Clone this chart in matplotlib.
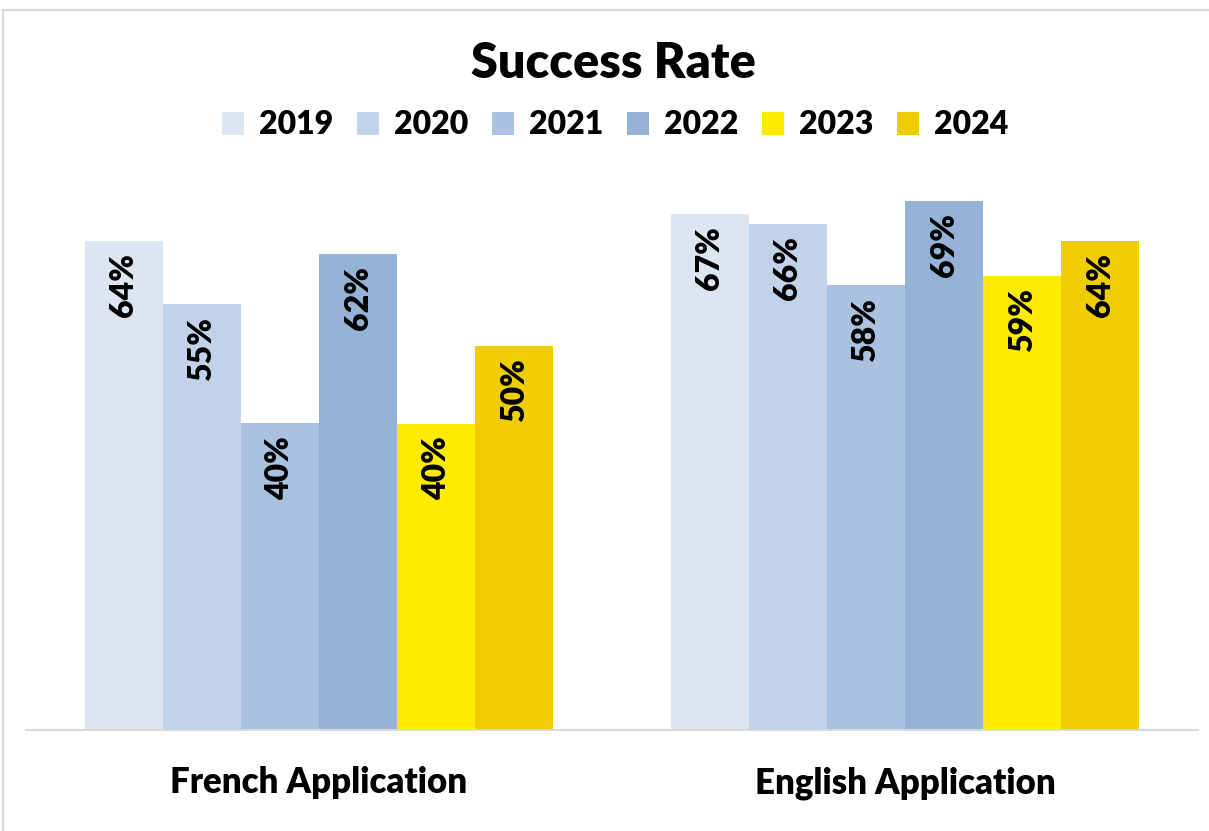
import matplotlib.pyplot as plt
from matplotlib.patches import Rectangle, Patch
import numpy as np

categories = ['French Application', 'English Application']
years = ['2019', '2020', '2021', '2022', '2023', '2024']
values = {
    '2019': [63.8, 67.3],
    '2020': [55.5, 66.0],
    '2021': [40.0, 58.0],
    '2022': [62.1, 69.0],
    '2023': [39.9, 59.2],
    '2024': [50.1, 63.8],
}
labels = {
    '2019': ['64%', '67%'],
    '2020': ['55%', '66%'],
    '2021': ['40%', '58%'],
    '2022': ['62%', '69%'],
    '2023': ['40%', '59%'],
    '2024': ['50%', '64%'],
}
colors = ['#DCE5F1', '#C2D3E9', '#ABC1E0', '#95B3D7', '#FFEB00', '#F0CD00']

plt.rcParams['font.family'] = ['Lato', 'DejaVu Sans']
wt = 'heavy'

fig = plt.figure(figsize=(12.09, 8.31), dpi=100)
W, H = 1209, 831

# light grey chart border (cut off on right/bottom like the screenshot)
fig.patches.append(Rectangle((3 / W, -0.1), 1.2, 1 - 10 / H + 0.1,
                             transform=fig.transFigure, fill=False,
                             edgecolor='#D9D9D9', linewidth=1.5))

base = 730
px_per = 7.67
ymax = 80
ax = fig.add_axes([26 / W, 1 - base / H, (1198 - 26) / W, ymax * px_per / H])

x = np.arange(len(categories))
bw = 0.8 / len(years)
for i, (yr, c) in enumerate(zip(years, colors)):
    pos = x - 0.4 + bw * (i + 0.5)
    ax.bar(pos, values[yr], width=bw, color=c, edgecolor='none')
    for p, v, lab in zip(pos, values[yr], labels[yr]):
        ax.annotate(lab, (p, v), xytext=(0, -9), textcoords='offset points',
                    rotation=90, ha='center', va='top', fontsize=23,
                    fontweight=wt, color='black')

ax.set_xlim(-0.5, 1.5)
ax.set_ylim(0, ymax)
ax.set_yticks([])
ax.set_xticks(x)
ax.set_xticklabels(categories, fontsize=25, fontweight=wt)
ax.tick_params(axis='x', length=0, pad=26)
for s in ['top', 'right', 'left']:
    ax.spines[s].set_visible(False)
ax.spines['bottom'].set_color('#D9D9D9')
ax.spines['bottom'].set_linewidth(1.5)

fig.text(613 / W, 1 - 63 / H, 'Success Rate', ha='center', va='center',
         fontsize=35, fontweight=wt)

handles = [Patch(facecolor=c, edgecolor='none') for c in colors]
fig.legend(handles, years, loc='center', bbox_to_anchor=(615 / W, 1 - 125 / H),
           ncol=6, frameon=False, handlelength=0.7, handleheight=0.7,
           handletextpad=0.45, columnspacing=0.75,
           prop={'size': 23, 'weight': wt})

fig.savefig('out.png', dpi=100)
